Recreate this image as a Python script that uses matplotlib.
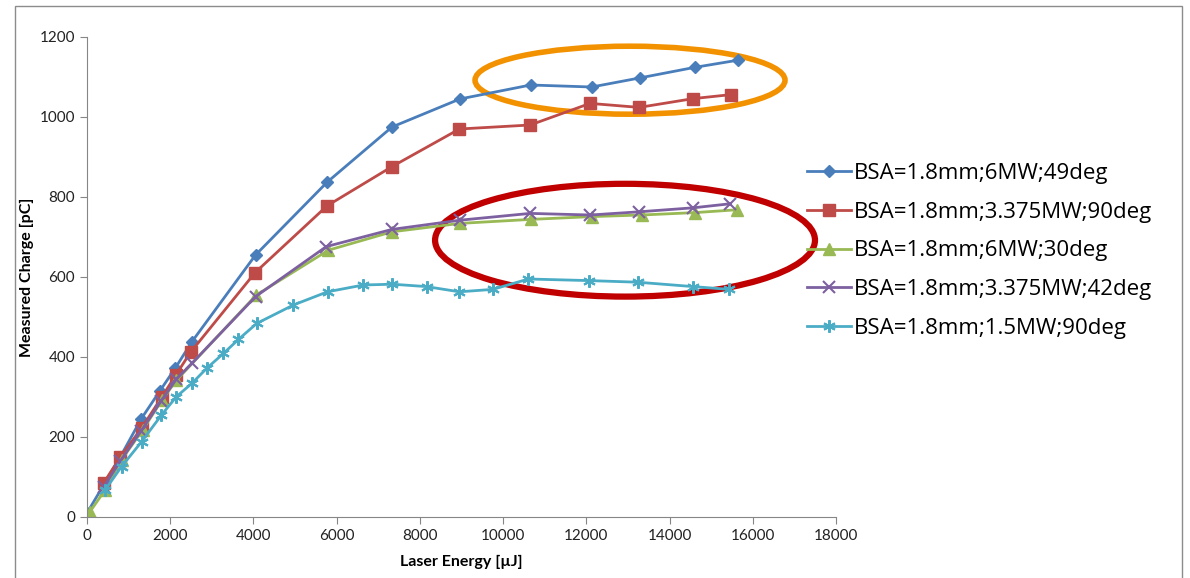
import matplotlib
matplotlib.use('Agg')
import matplotlib.pyplot as plt
from matplotlib.patches import Ellipse, Rectangle

plt.rcParams['font.family'] = ['Lato', 'DejaVu Sans']

# Data
x_blue = [0, 800, 1300, 1750, 2120, 2520, 4050, 5770, 7330, 8960, 10660, 12130, 13300, 14600, 15640]
y_blue = [10, 150, 245, 315, 372, 438, 655, 837, 975, 1045, 1080, 1075, 1098, 1124, 1142]

x_red = [400, 800, 1310, 1800, 2140, 2490, 4040, 5770, 7330, 8950, 10650, 12090, 13270, 14570, 15480]
y_red = [85, 150, 222, 300, 356, 412, 611, 778, 876, 970, 980, 1034, 1024, 1046, 1056]

x_green = [70, 430, 830, 1340, 1800, 2150, 4070, 5800, 7330, 8960, 10660, 12130, 13330, 14610, 15610]
y_green = [13, 67, 143, 218, 292, 342, 555, 667, 713, 734, 744, 751, 755, 761, 768]

x_purple = [400, 800, 1300, 1780, 2150, 2520, 4050, 5750, 7330, 8960, 10650, 12100, 13270, 14570, 15450]
y_purple = [75, 140, 215, 290, 345, 384, 551, 676, 719, 742, 759, 755, 763, 773, 783]

x_cyan = [430, 830, 1310, 1790, 2150, 2520, 2880, 3280, 3640, 4080, 4960, 5780, 6640, 7340,
          8160, 8950, 9750, 10610, 12070, 13230, 14570, 15440]
y_cyan = [67, 126, 188, 255, 301, 334, 372, 409, 444, 484, 530, 563, 580, 582,
          576, 563, 569, 595, 591, 587, 576, 569]

labels = ['BSA=1.8mm;6MW;49deg', 'BSA=1.8mm;3.375MW;90deg', 'BSA=1.8mm;6MW;30deg',
          'BSA=1.8mm;3.375MW;42deg', 'BSA=1.8mm;1.5MW;90deg']

fig = plt.figure(figsize=(11.9, 5.78), dpi=100)
ax = fig.add_axes([87 / 1190, 1 - 517 / 578, (836 - 87) / 1190, (517 - 37) / 578])

# outer chart frame
fig.patches.append(Rectangle((15 / 1190, -0.05), (1182 - 15) / 1190, 1 - 6 / 578 + 0.05,
                             transform=fig.transFigure, fill=False, edgecolor='#8c8c8c', lw=1.0))

lw = 2.0
ax.plot(x_blue, y_blue, color='#4A7EBB', marker='D', ms=6.5, lw=lw, label=labels[0])
ax.plot(x_red, y_red, color='#BE4B48', marker='s', ms=8, lw=lw, label=labels[1])
ax.plot(x_green, y_green, color='#98B954', marker='^', ms=8, lw=lw, label=labels[2])
ax.plot(x_purple, y_purple, color='#7D60A0', marker='x', ms=8, mew=1.5, lw=lw, label=labels[3])
ax.plot(x_cyan, y_cyan, color='#4BACC6', marker=(6, 2, 0), ms=9, mew=1.5, lw=lw, label=labels[4])

# highlight ellipses
ax.add_patch(Ellipse((13050, 1092), 7450, 170, fill=False, edgecolor='#F39200', lw=4))
ax.add_patch(Ellipse((12930, 692), 9130, 282, fill=False, edgecolor='#C00000', lw=4.5))

ax.set_xlim(0, 18000)
ax.set_ylim(0, 1200)
ax.set_xticks(range(0, 18001, 2000))
ax.set_yticks(range(0, 1201, 200))
for s in ['top', 'right']:
    ax.spines[s].set_visible(False)
for s in ['left', 'bottom']:
    ax.spines[s].set_color('#868686')
ax.tick_params(direction='out', length=5, color='#868686', labelsize=11, labelcolor='#222222')
ax.set_xlabel('Laser Energy [µJ]', fontsize=11.5, fontweight='bold', labelpad=9)
ax.set_ylabel('Measured Charge [pC]', fontsize=11.5, fontweight='bold', labelpad=4)

ax.legend(loc='upper left', bbox_to_anchor=(798 / 1190, 1 - 154 / 578), bbox_transform=fig.transFigure,
          frameon=False, prop={'family': 'Open Sans', 'size': 16}, handlelength=2.0,
          handletextpad=0.12, labelspacing=0.8, borderaxespad=0)

plt.savefig('out.png', dpi=100)
